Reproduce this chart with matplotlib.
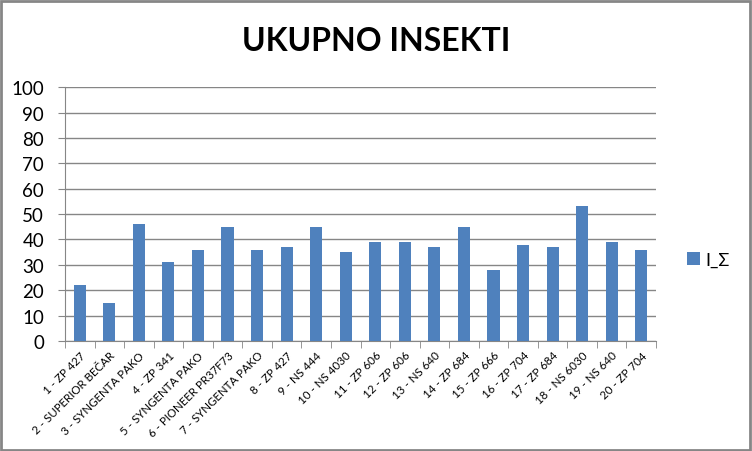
import numpy as np
from matplotlib import pyplot as plt
from matplotlib.patches import Rectangle

# podaci
kategorije = ['1 - ZP 427', '2 - SUPERIOR BEČAR', '3 - SYNGENTA PAKO', '4 - ZP 341',
              '5 - SYNGENTA PAKO', '6 - PIONEER PR37F73', '7 - SYNGENTA PAKO', '8 - ZP 427',
              '9 - NS 444', '10 - NS 4030', '11 - ZP 606', '12 - ZP 606', '13 - NS 640',
              '14 - ZP 684', '15 - ZP 666', '16 - ZP 704', '17 - ZP 684', '18 - NS 6030',
              '19 - NS 640', '20 - ZP 704']
insekti = [22, 15, 46, 31, 36, 45, 36, 37, 45, 35, 39, 39, 37, 45, 28, 38, 37, 53, 39, 36]
y_ticks = [0, 10, 20, 30, 40, 50, 60, 70, 80, 90, 100]

plt.rcParams['font.family'] = ['Lato', 'DejaVu Sans']

fig = plt.figure(figsize=(7.52, 4.52), dpi=100)
ax = fig.add_axes([0.0864, 0.2434, 0.786, 0.5616])

x = np.arange(len(kategorije))
ax.bar(x, insekti, width=0.41, color='#4F81BD', label='I_Σ', zorder=3)

ax.set_xlim(-0.5, len(kategorije) - 0.5)
ax.set_ylim(0, 100)
ax.set_yticks(y_ticks)
ax.tick_params(axis='y', labelsize=13.5, length=5, color='#868686', pad=10)
ax.yaxis.grid(True, color='#868686', linewidth=1, zorder=0)

ax.set_xticks(x)
ax.set_xticklabels(kategorije, rotation=45, ha='right', rotation_mode='anchor', fontsize=8.3)
ax.set_xticks(np.arange(len(kategorije) + 1) - 0.5, minor=True)
ax.tick_params(axis='x', which='major', length=0, pad=6)
ax.tick_params(axis='x', which='minor', length=5, color='#868686')

for s in ['top', 'right']:
    ax.spines[s].set_visible(False)
for s in ['left', 'bottom']:
    ax.spines[s].set_color('#868686')

fig.text(0.5, 0.908, 'UKUPNO INSEKTI', ha='center', va='center',
         fontsize=23, fontweight='bold')

ax.legend(loc='center left', bbox_to_anchor=(1.025, 0.32), frameon=False,
          fontsize=13, handlelength=0.7, handleheight=0.7, handletextpad=0.3)

fig.patches.append(Rectangle((0.001, 0.002), 0.996, 0.994, transform=fig.transFigure,
                             fill=False, edgecolor='#868686', linewidth=2))

plt.savefig('out.png', dpi=100)
